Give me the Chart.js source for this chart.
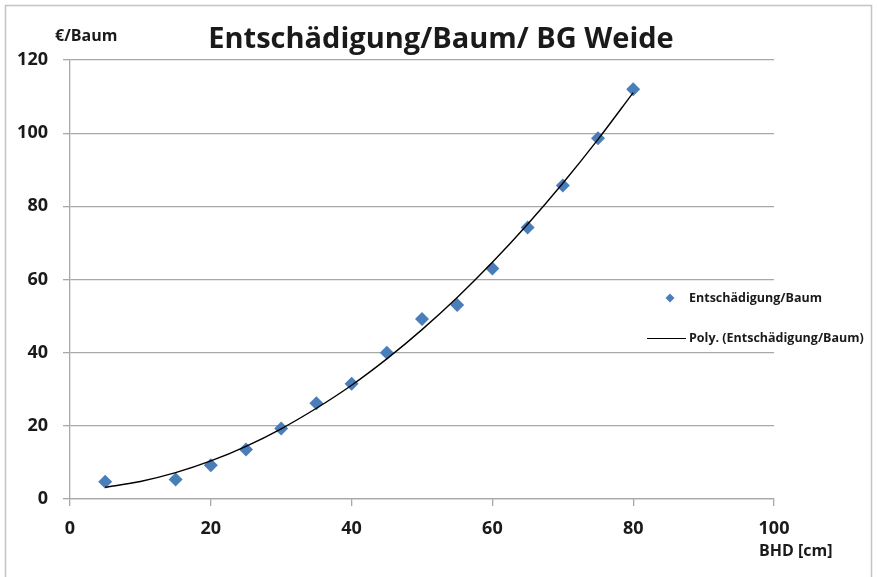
<!DOCTYPE html>
<html><head><meta charset="utf-8">
<script src="https://cdn.jsdelivr.net/npm/chart.js@4"></script>
<style>html,body{margin:0;padding:0;background:#fff}#wrap{position:relative;width:877px;height:577px}</style>
</head><body><div id="wrap"><canvas id="c" width="877" height="577"></canvas></div>
<script>
const bhd = [5, 15, 20, 25, 30, 35, 40, 45, 50, 55, 60, 65, 70, 75, 80];
const entschaedigung = [4.7, 5.3, 9.2, 13.5, 19.3, 26.2, 31.5, 40.0, 49.2, 53.0, 63.0, 74.2, 85.7, 98.6, 112.0];
const trendX = [5, 10, 15, 20, 25, 30, 35, 40, 45, 50, 55, 60, 65, 70, 75, 80];
const trendY = [3.2, 4.8, 7.2, 10.4, 14.4, 19.2, 24.8, 31.1, 38.3, 46.3, 55.1, 64.7, 75.1, 86.3, 98.3, 111.1];
const xTicks = [0, 20, 40, 60, 80, 100];
const yTicks = [0, 20, 40, 60, 80, 100, 120];
const titleText = 'Entschädigung/Baum/ BG Weide';
const yTitle = '€/Baum';
const xTitle = 'BHD [cm]';
const seriesName = 'Entschädigung/Baum';
const trendName = 'Poly. (Entschädigung/Baum)';

const FONT = "'Open Sans', 'Noto Sans', sans-serif";
const GRID = '#a8a8a8';
const BLUE = '#4A7EBB';

const decor = {
  id: 'decor',
  afterDraw(chart) {
    const ctx = chart.ctx;
    ctx.save();
    ctx.strokeStyle = '#c4c4c4';
    ctx.lineWidth = 1.5;
    ctx.beginPath();
    ctx.moveTo(5.5, 590); ctx.lineTo(5.5, 5.5); ctx.lineTo(871.5, 5.5); ctx.lineTo(871.5, 590);
    ctx.stroke();
    ctx.fillStyle = '#1a1a1a';
    ctx.textBaseline = 'middle';
    ctx.textAlign = 'center';
    ctx.font = 'bold 29px ' + FONT;
    ctx.fillText(titleText, 441, 40);
    ctx.textAlign = 'left';
    ctx.font = 'bold 16px ' + FONT;
    ctx.fillText(yTitle, 55, 36);
    ctx.fillText(xTitle, 759, 551);
    // legend
    ctx.font = 'bold 12.5px ' + FONT;
    ctx.fillText(seriesName, 689, 298);
    ctx.fillText(trendName, 689, 338);
    ctx.fillStyle = BLUE;
    ctx.beginPath();
    ctx.moveTo(670, 293.5); ctx.lineTo(674.5, 298); ctx.lineTo(670, 302.5); ctx.lineTo(665.5, 298);
    ctx.closePath(); ctx.fill();
    ctx.strokeStyle = '#000';
    ctx.lineWidth = 1.2;
    ctx.beginPath(); ctx.moveTo(647, 338.5); ctx.lineTo(686, 338.5); ctx.stroke();
    ctx.restore();
  }
};

new Chart(document.getElementById('c'), {
  type: 'scatter',
  data: {
    datasets: [
      {
        label: trendName,
        data: trendX.map((x, i) => ({x, y: trendY[i]})),
        showLine: true,
        borderColor: '#000',
        borderWidth: 1.4,
        pointRadius: 0,
        cubicInterpolationMode: 'monotone',
        order: 0
      },
      {
        label: seriesName,
        data: bhd.map((x, i) => ({x, y: entschaedigung[i]})),
        pointStyle: 'rectRot',
        pointRadius: 7,
        backgroundColor: BLUE,
        borderColor: BLUE,
        borderWidth: 0,
        order: 1
      }
    ]
  },
  options: {
    responsive: false,
    animation: false,
    devicePixelRatio: 1,
    layout: { padding: { top: 60, right: 103, left: 0, bottom: 0 } },
    plugins: { legend: { display: false }, title: { display: false }, tooltip: { enabled: false } },
    scales: {
      x: {
        type: 'linear', min: 0, max: 100,
        afterBuildTicks: s => { s.ticks = xTicks.map(v => ({value: v})); },
        afterFit: s => { s.height = 78; },
        grid: { drawOnChartArea: false, drawTicks: true, tickLength: 7, color: GRID, lineWidth: 1.3 },
        border: { color: GRID, width: 1.3 },
        ticks: { font: { family: FONT, size: 18, weight: 'bold' }, color: '#1a1a1a', padding: 12, maxRotation: 0 }
      },
      y: {
        type: 'linear', min: 0, max: 120,
        afterBuildTicks: s => { s.ticks = yTicks.map(v => ({value: v})); },
        afterFit: s => { s.width = 70; },
        grid: { drawOnChartArea: true, drawTicks: true, tickLength: 7, color: GRID, lineWidth: 1.3 },
        border: { color: GRID, width: 1.3 },
        ticks: { font: { family: FONT, size: 18, weight: 'bold' }, color: '#1a1a1a', padding: 15 }
      }
    }
  },
  plugins: [decor]
});
</script>
</body></html>
